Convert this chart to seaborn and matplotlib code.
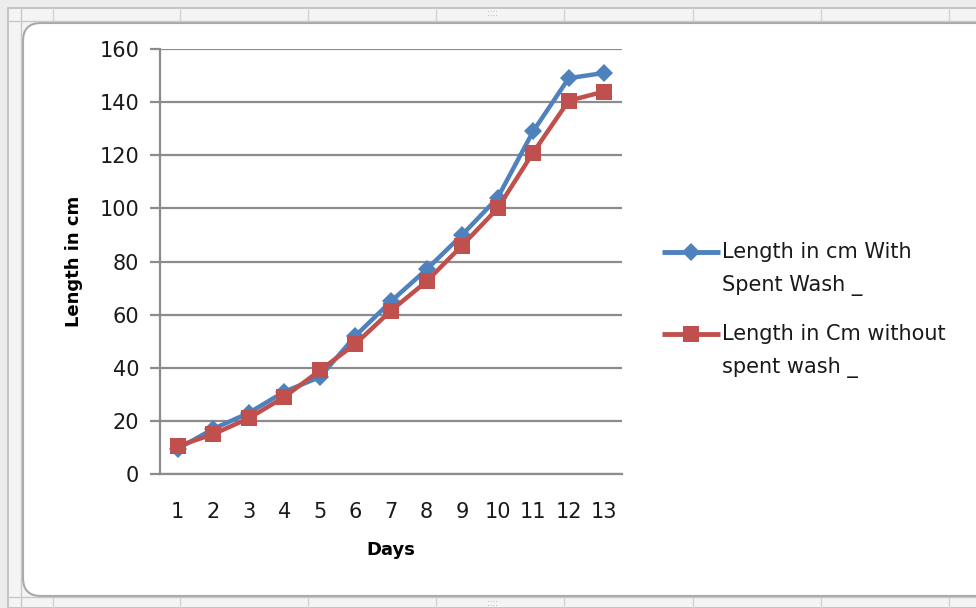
import matplotlib
matplotlib.use("Agg")
import matplotlib.pyplot as plt
from matplotlib.patches import FancyBboxPatch, Rectangle
from matplotlib.ticker import FixedLocator, NullFormatter
import seaborn as sns
import pandas as pd

days = list(range(1, 14))
with_spent_wash = [9.5, 17, 23, 31, 36.5, 52, 65, 77, 90, 104, 129, 149, 151]
without_spent_wash = [10.5, 15, 21, 29, 39, 49, 61.5, 72.5, 86, 100, 121, 140.5, 144]
series_names = ["Length in cm With\nSpent Wash _", "Length in Cm without\nspent wash _"]
series_colors = ["#4f81bd", "#c0504d"]
series_markers = ["D", "s"]
y_ticks = [0, 20, 40, 60, 80, 100, 120, 140, 160]

df = pd.DataFrame({
    "Days": days * 2,
    "Length": with_spent_wash + without_spent_wash,
    "Series": [series_names[0]] * len(days) + [series_names[1]] * len(days),
})

sns.set_theme(style="white")
plt.rcParams["font.family"] = ["DejaVu Sans"]

W, H = 976, 608
fig = plt.figure(figsize=(W / 100, H / 100), dpi=100, facecolor="#ededed")

# spreadsheet frame behind the chart object (pixel coordinates)
bg = fig.add_axes([0, 0, 1, 1], zorder=-10)
bg.set_xlim(0, W)
bg.set_ylim(H, 0)
bg.axis("off")
bg.add_patch(Rectangle((8, 8), W, H - 8, facecolor="#f4f4f4", edgecolor="#bdbdbd", lw=1.2))
for xv in [53, 180, 308, 436, 564, 693, 821, 949]:
    bg.plot([xv, xv], [8, 21], color="#d4d4d4", lw=1)
    bg.plot([xv, xv], [597, 608], color="#d4d4d4", lw=1)
bg.plot([8, W], [21, 21], color="#c8c8c8", lw=1)
bg.plot([8, W], [597, 597], color="#c8c8c8", lw=1)
bg.plot([21, 21], [8, H], color="#c8c8c8", lw=1)
bg.add_patch(FancyBboxPatch((23, 23), W + 20, 573, boxstyle="round,pad=0,rounding_size=18",
                            facecolor="white", edgecolor="#a8a8a8", lw=1.5))
bg.text(492, 14, "::::", ha="center", va="center", fontsize=6, color="#a0a0a0")
bg.text(492, 603, "::::", ha="center", va="center", fontsize=6, color="#a0a0a0")

ax = fig.add_axes([160 / W, 1 - 474 / H, (622 - 160) / W, (474 - 49) / H])
ax.set_facecolor("white")

palette = dict(zip(series_names, series_colors))
markers = dict(zip(series_names, series_markers))
sns.lineplot(data=df, x="Days", y="Length", hue="Series", style="Series",
             palette=palette, markers=markers, dashes=False, linewidth=3.2,
             markersize=10, markeredgewidth=0, ax=ax, legend=False, zorder=3)
for line, ms in zip(ax.get_lines(), [9.5, 11]):
    line.set_markersize(ms)

ax.set_xlim(0.5, 13.5)
ax.set_ylim(0, 160)
ax.set_yticks(y_ticks)
ax.set_xticks(days)
ax.xaxis.set_minor_locator(FixedLocator([d + 0.5 for d in range(0, 14)]))
ax.xaxis.set_minor_formatter(NullFormatter())
ax.grid(axis="y", color="#8c8c8c", lw=1.6)
ax.set_axisbelow(True)
for s in ["top", "right"]:
    ax.spines[s].set_visible(False)
for s in ["left", "bottom"]:
    ax.spines[s].set_color("#8c8c8c")
    ax.spines[s].set_linewidth(1.6)
ax.tick_params(axis="x", which="major", length=0, pad=20, labelsize=15, labelcolor="#1a1a1a")
ax.tick_params(axis="x", which="minor", length=7, width=1.6, color="#8c8c8c", direction="out")
ax.tick_params(axis="y", length=7, width=1.6, color="#8c8c8c", direction="out", pad=8,
               labelsize=15, labelcolor="#1a1a1a", left=True)

ax.set_xlabel("Days", fontsize=13, fontweight="bold", labelpad=14, color="black")
ax.set_ylabel("Length in cm", fontsize=13, fontweight="bold", labelpad=12, color="black")

# legend to the right: handle sits level with the first line of each label
for name, color, marker, y0 in zip(series_names, series_colors, series_markers, [252, 334]):
    bg.plot([662, 720], [y0, y0], color=color, lw=3.5, solid_capstyle="butt")
    bg.plot([691], [y0], marker=marker, color=color, markersize=9 if marker == "D" else 11,
            markeredgewidth=0)
    bg.text(722, y0 - 10, name, ha="left", va="top", fontsize=15, color="#1a1a1a",
            linespacing=1.8)

fig.savefig("out.png", dpi=100, facecolor=fig.get_facecolor())
